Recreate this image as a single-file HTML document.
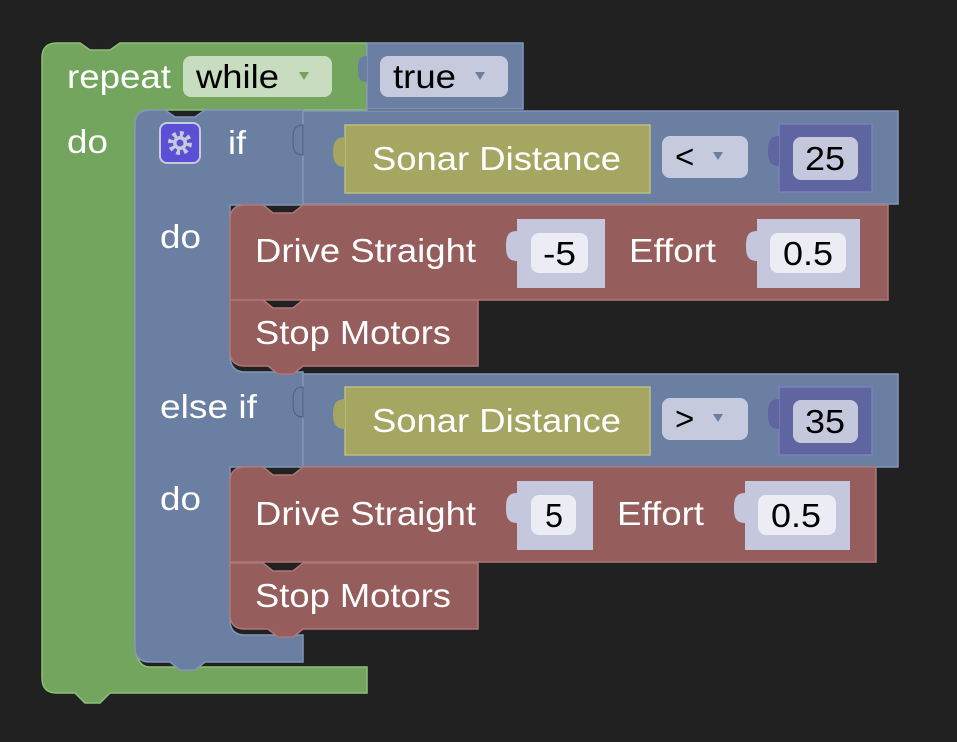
<!DOCTYPE html>
<html><head><meta charset="utf-8"><style>
html,body{margin:0;padding:0;background:#212121;}
svg{display:block}
text{font-family:"Liberation Sans",Arial,sans-serif;font-size:33px;}
.w{fill:#fff}.b{fill:#000}
</style></head><body>
<svg width="957" height="742" viewBox="0 0 957 742" xmlns="http://www.w3.org/2000/svg">
<rect width="957" height="742" fill="#212121"/>
<!-- green repeat block -->
<path d="M42 58 Q42 43 57 43 L80 43 L90 50 L110 50 L120 43 L367 43 L367 110 L150 110 Q135 110 135 125 L135 640 Q135 667 150 667 L367 667 L367 693 L110 693 L100 703 L85 703 L75 693 L57 693 Q42 693 42 678 Z" fill="#74a55f" stroke="#8fbf7a" stroke-width="1.5"/>
<rect x="183" y="56" width="149" height="41" rx="8" fill="#c8dcc0"/>
<text x="196" y="88" class="b" textLength="83" lengthAdjust="spacingAndGlyphs">while</text>
<path d="M299 72 l10 0 l-5 8 z" fill="#74a55f"/>
<text x="67" y="88" class="w" textLength="104" lengthAdjust="spacingAndGlyphs">repeat</text>
<text x="67" y="153" class="w" textLength="41" lengthAdjust="spacingAndGlyphs">do</text>
<!-- true block -->
<rect x="367" y="43" width="156" height="66" fill="#6b7fa3" stroke="#8396b8" stroke-width="1.5"/>
<path d="M367 56 c-9 0 -9 6 -9 13 s0 13 9 13 z" fill="#6b7fa3"/>
<rect x="380" y="56" width="128" height="41" rx="8" fill="#c5cbdc"/>
<text x="393" y="88" class="b" textLength="63" lengthAdjust="spacingAndGlyphs">true</text>
<path d="M475 72 l10 0 l-5 8 z" fill="#6b7fa3"/>
<!-- blue if block -->
<path d="M135 125 Q135 110 150 110 L165 110 L175 117 L195 117 L205 110 L303 110 L303 205 L230 205 L230 355 Q230 372 245 372 L303 372 L303 467 L230 467 L230 620 Q230 635 245 635 L303 635 L303 662 L205 662 L195 670 L180 670 L170 662 L150 662 Q135 662 135 647 Z" fill="#6b7fa3" stroke="#8396b8" stroke-width="1.5"/>
<rect x="160" y="123" width="40" height="40" rx="7" fill="#5b4fd6" stroke="#c5cbdc" stroke-width="2"/>
<circle cx="180" cy="143" r="9" fill="none" stroke="#c5cbdc" stroke-width="6" stroke-dasharray="3.5 3.5"/>
<circle cx="180" cy="143" r="7" fill="#c5cbdc"/>
<circle cx="180" cy="143" r="3.5" fill="#5b4fd6"/>
<text x="228" y="154" class="w" textLength="18" lengthAdjust="spacingAndGlyphs">if</text>
<text x="160" y="248" class="w" textLength="41" lengthAdjust="spacingAndGlyphs">do</text>
<text x="160" y="418" class="w" textLength="97" lengthAdjust="spacingAndGlyphs">else if</text>
<text x="160" y="510" class="w" textLength="41" lengthAdjust="spacingAndGlyphs">do</text>
<!-- compare 1 -->
<rect x="303" y="111" width="595" height="93" fill="#6b7fa3" stroke="#8396b8" stroke-width="1.5"/>
<path d="M303 125 c-10 0 -10 8 -10 15 s0 15 10 15 z" fill="#6b7fa3" stroke="#4d5f80" stroke-width="1"/>
<rect x="345" y="125" width="305" height="68" fill="#a5a662" stroke="#bdbe80" stroke-width="1.5"/>
<path d="M345 137 c-10 0 -12 7 -12 15 s2 15 12 15 z" fill="#a5a662"/>
<text x="372" y="170" class="w" textLength="249" lengthAdjust="spacingAndGlyphs">Sonar Distance</text>
<rect x="662" y="136" width="86" height="42" rx="8" fill="#c5cbdc"/>
<text x="675" y="168" class="b">&lt;</text>
<path d="M713 152 l10 0 l-5 8 z" fill="#6b7fa3"/>
<rect x="779" y="124" width="93" height="68" fill="#5f65a0" stroke="#7a80b8" stroke-width="1.5"/>
<path d="M779 136 c-10 0 -11 7 -11 15 s1 15 11 15 z" fill="#5f65a0"/>
<rect x="793" y="137" width="65" height="43" rx="8" fill="#c5c8dc"/>
<text x="805" y="170" class="b" textLength="40" lengthAdjust="spacingAndGlyphs">25</text>
<!-- drive 1 -->
<path d="M230 220 Q230 205 245 205 L263 205 L273 213 L293 213 L303 205 L888 205 L888 300 L230 300 Z" fill="#955d5c" stroke="#ae7877" stroke-width="1.5"/>
<text x="255" y="262" class="w" textLength="221" lengthAdjust="spacingAndGlyphs">Drive Straight</text>
<rect x="517" y="219" width="88" height="69" fill="#c5c8dc"/>
<path d="M517 231 c-10 0 -11 7 -11 15 s1 15 11 15 z" fill="#c5c8dc"/>
<rect x="531" y="233" width="57" height="40" rx="8" fill="#ececf4"/>
<text x="543" y="265" class="b" textLength="33" lengthAdjust="spacingAndGlyphs">-5</text>
<text x="629" y="262" class="w" textLength="87" lengthAdjust="spacingAndGlyphs">Effort</text>
<rect x="757" y="219" width="103" height="69" fill="#c5c8dc"/>
<path d="M757 231 c-10 0 -11 7 -11 15 s1 15 11 15 z" fill="#c5c8dc"/>
<rect x="770" y="233" width="76" height="40" rx="8" fill="#ececf4"/>
<text x="783" y="265" class="b" textLength="50" lengthAdjust="spacingAndGlyphs">0.5</text>
<!-- stop 1 -->
<path d="M230 300 L263 300 L273 308 L293 308 L303 300 L478 300 L478 366 L303 366 L293 374 L278 374 L268 366 L245 366 Q230 366 230 351 Z" fill="#955d5c" stroke="#ae7877" stroke-width="1.5"/>
<text x="255" y="344" class="w" textLength="196" lengthAdjust="spacingAndGlyphs">Stop Motors</text>
<!-- compare 2 -->
<rect x="303" y="374" width="595" height="93" fill="#6b7fa3" stroke="#8396b8" stroke-width="1.5"/>
<path d="M303 387 c-10 0 -10 8 -10 15 s0 15 10 15 z" fill="#6b7fa3" stroke="#4d5f80" stroke-width="1"/>
<rect x="345" y="387" width="305" height="68" fill="#a5a662" stroke="#bdbe80" stroke-width="1.5"/>
<path d="M345 399 c-10 0 -12 7 -12 15 s2 15 12 15 z" fill="#a5a662"/>
<text x="372" y="432" class="w" textLength="249" lengthAdjust="spacingAndGlyphs">Sonar Distance</text>
<rect x="662" y="398" width="86" height="42" rx="8" fill="#c5cbdc"/>
<text x="675" y="430" class="b">&gt;</text>
<path d="M713 414 l10 0 l-5 8 z" fill="#6b7fa3"/>
<rect x="779" y="387" width="93" height="68" fill="#5f65a0" stroke="#7a80b8" stroke-width="1.5"/>
<path d="M779 399 c-10 0 -11 7 -11 15 s1 15 11 15 z" fill="#5f65a0"/>
<rect x="793" y="400" width="65" height="43" rx="8" fill="#c5c8dc"/>
<text x="805" y="433" class="b" textLength="40" lengthAdjust="spacingAndGlyphs">35</text>
<!-- drive 2 -->
<path d="M230 482 Q230 467 245 467 L263 467 L273 475 L293 475 L303 467 L876 467 L876 562 L230 562 Z" fill="#955d5c" stroke="#ae7877" stroke-width="1.5"/>
<text x="255" y="525" class="w" textLength="221" lengthAdjust="spacingAndGlyphs">Drive Straight</text>
<rect x="517" y="481" width="76" height="69" fill="#c5c8dc"/>
<path d="M517 493 c-10 0 -11 7 -11 15 s1 15 11 15 z" fill="#c5c8dc"/>
<rect x="531" y="495" width="45" height="40" rx="8" fill="#ececf4"/>
<text x="545" y="527" class="b" textLength="18" lengthAdjust="spacingAndGlyphs">5</text>
<text x="617" y="525" class="w" textLength="87" lengthAdjust="spacingAndGlyphs">Effort</text>
<rect x="745" y="481" width="105" height="69" fill="#c5c8dc"/>
<path d="M745 493 c-10 0 -11 7 -11 15 s1 15 11 15 z" fill="#c5c8dc"/>
<rect x="758" y="495" width="78" height="40" rx="8" fill="#ececf4"/>
<text x="771" y="527" class="b" textLength="50" lengthAdjust="spacingAndGlyphs">0.5</text>
<!-- stop 2 -->
<path d="M230 563 L263 563 L273 571 L293 571 L303 563 L478 563 L478 629 L303 629 L293 637 L278 637 L268 629 L245 629 Q230 629 230 614 Z" fill="#955d5c" stroke="#ae7877" stroke-width="1.5"/>
<text x="255" y="607" class="w" textLength="196" lengthAdjust="spacingAndGlyphs">Stop Motors</text>
</svg>
</body></html>
